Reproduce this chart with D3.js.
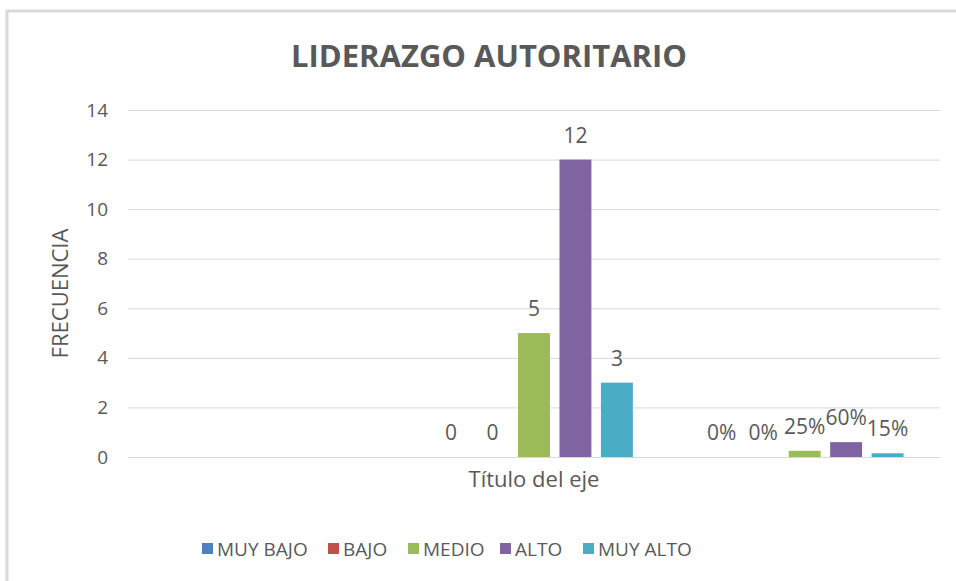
<!DOCTYPE html>
<html>
<head>
<meta charset="utf-8">
<script src="https://cdn.jsdelivr.net/npm/d3@7"></script>
<style>
  body { margin: 0; background: #fff; }
  text { font-family: "Open Sans", "Noto Sans", sans-serif; fill: #595959; }
</style>
</head>
<body>
<div id="chart"></div>
<script>
const categories = ["", "Título del eje", " "];
const seriesNames = ["MUY BAJO", "BAJO", "MEDIO", "ALTO", "MUY ALTO"];
const seriesColors = ["#4f81bd", "#c0504d", "#9bbb59", "#8064a2", "#4bacc6"];
// values per category, one per series (null = empty cell)
const group1 = [null, null, null, null, null];
const group2 = [0, 0, 5, 12, 3];
const group3 = [0, 0, 0.25, 0.6, 0.15];
const yTicks = [0, 2, 4, 6, 8, 10, 12, 14];

const groups = [
  { cat: categories[0], values: group1, pct: false },
  { cat: categories[1], values: group2, pct: false },
  { cat: categories[2], values: group3, pct: true }
];

const W = 956, H = 581;
const margin = { top: 110, right: 16, bottom: 124, left: 128 };
const width = W - margin.left - margin.right,
  height = H - margin.top - margin.bottom;

const svg = d3.select("#chart").append("svg")
  .attr("width", W).attr("height", H);

// chart frame (left and top edges visible)
svg.append("path")
  .attr("d", "M7,581 V11 H956")
  .attr("fill", "none")
  .attr("stroke", "#d9d9d9")
  .attr("stroke-width", 3);

svg.append("text")
  .attr("x", 489).attr("y", 67)
  .attr("text-anchor", "middle")
  .style("font-size", "31px")
  .style("font-weight", "bold")
  .text("LIDERAZGO AUTORITARIO");

const g = svg.append("g")
  .attr("transform", "translate(" + margin.left + "," + margin.top + ")");

const x0 = d3.scaleBand().domain(d3.range(groups.length)).range([0, width]);
const x1 = d3.scaleBand().domain(seriesNames).range([0, x0.bandwidth()])
  .paddingInner(0.23).paddingOuter(0.88);
const y = d3.scaleLinear().domain([0, 14]).range([height, 0]);

// grid + y labels
g.append("g")
  .call(d3.axisLeft(y).tickValues(yTicks).tickSize(-width).tickPadding(20))
  .call(a => a.select(".domain").remove())
  .call(a => a.selectAll(".tick line").attr("stroke", "#d9d9d9"))
  .call(a => a.selectAll(".tick text")
    .style("font-size", "19px").style("font-family", "'Open Sans', sans-serif")
    .attr("fill", "#595959"));

const grp = g.selectAll(".grp").data(groups).enter().append("g")
  .attr("transform", (d, i) => "translate(" + x0(i) + ",0)");

const fmt = (v, pct) => pct ? Math.round(v * 100) + "%" : String(v);

grp.each(function (gd) {
  const sel = d3.select(this);
  const items = gd.values.map((v, i) => ({ v, name: seriesNames[i], color: seriesColors[i] }))
    .filter(d => d.v !== null);
  sel.selectAll("rect").data(items).enter().append("rect")
    .attr("x", d => x1(d.name))
    .attr("width", x1.bandwidth())
    .attr("y", d => y(d.v))
    .attr("height", d => height - y(d.v))
    .attr("fill", d => d.color);
  sel.selectAll(".lbl").data(items).enter().append("text")
    .attr("x", d => x1(d.name) + x1.bandwidth() / 2)
    .attr("y", d => y(d.v) - 17)
    .attr("text-anchor", "middle")
    .style("font-size", "21px")
    .text(d => fmt(d.v, gd.pct));
});

// x axis title
svg.append("text")
  .attr("x", margin.left + width / 2).attr("y", 487)
  .attr("text-anchor", "middle")
  .style("font-size", "22px")
  .text("Título del eje");

// y axis title
svg.append("text")
  .attr("transform", "translate(68," + (margin.top + height / 2 + 10) + ") rotate(-90)")
  .attr("text-anchor", "middle")
  .style("font-size", "22px")
  .text("FRECUENCIA");

// legend
const legendX = [202, 328, 408, 500, 583];
const legend = svg.append("g");
seriesNames.forEach((n, i) => {
  legend.append("rect")
    .attr("x", legendX[i]).attr("y", 543)
    .attr("width", 11).attr("height", 11)
    .attr("fill", seriesColors[i]);
  legend.append("text")
    .attr("x", legendX[i] + 15).attr("y", 556)
    .style("font-size", "19px")
    .text(n);
});
</script>
</body>
</html>
